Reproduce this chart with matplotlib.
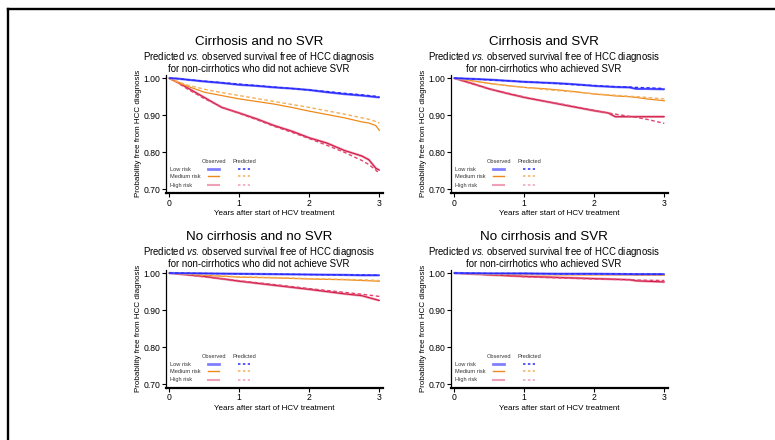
import matplotlib
matplotlib.use('Agg')
import matplotlib.pyplot as plt
from matplotlib.lines import Line2D

plt.rcParams['font.family'] = ['Liberation Sans', 'DejaVu Sans']
plt.rcParams['mathtext.fontset'] = 'custom'
plt.rcParams['mathtext.rm'] = 'Liberation Sans'
plt.rcParams['mathtext.it'] = 'Liberation Sans:italic'

# panel 1: cirrhosis, no SVR
t1 = [0, 0.1, 0.25, 0.5, 0.75, 1, 1.25, 1.5, 1.75, 2, 2.25, 2.5, 2.75, 2.85, 2.95, 3]
low_obs1 = [1.0, 0.999, 0.996, 0.991, 0.987, 0.982, 0.979, 0.975, 0.972, 0.968, 0.962, 0.957, 0.953, 0.951, 0.949, 0.948]
low_pred1 = [1.0, 0.999, 0.996, 0.992, 0.988, 0.984, 0.980, 0.976, 0.972, 0.968, 0.964, 0.959, 0.955, 0.953, 0.951, 0.950]
med_obs1 = [1.0, 0.990, 0.979, 0.962, 0.953, 0.944, 0.937, 0.930, 0.921, 0.911, 0.902, 0.893, 0.882, 0.879, 0.872, 0.859]
med_pred1 = [1.0, 0.992, 0.982, 0.970, 0.961, 0.953, 0.945, 0.937, 0.929, 0.921, 0.912, 0.903, 0.893, 0.889, 0.883, 0.879]
high_obs1 = [1.0, 0.991, 0.975, 0.948, 0.921, 0.906, 0.890, 0.872, 0.857, 0.839, 0.825, 0.805, 0.790, 0.780, 0.757, 0.752]
high_pred1 = [1.0, 0.990, 0.972, 0.945, 0.922, 0.905, 0.888, 0.870, 0.854, 0.837, 0.819, 0.800, 0.778, 0.767, 0.752, 0.742]

# panel 2: cirrhosis, SVR
t2 = [0, 0.25, 0.5, 0.75, 1, 1.25, 1.5, 1.75, 2, 2.2, 2.3, 2.5, 2.6, 2.75, 3]
low_obs2 = [1.0, 0.998, 0.996, 0.993, 0.990, 0.988, 0.986, 0.983, 0.979, 0.977, 0.976, 0.975, 0.971, 0.971, 0.970]
low_pred2 = [1.0, 0.998, 0.995, 0.993, 0.990, 0.988, 0.985, 0.982, 0.980, 0.978, 0.977, 0.976, 0.975, 0.974, 0.972]
med_obs2 = [1.0, 0.993, 0.986, 0.980, 0.975, 0.972, 0.968, 0.963, 0.957, 0.954, 0.952, 0.950, 0.948, 0.944, 0.939]
med_pred2 = [1.0, 0.992, 0.985, 0.980, 0.975, 0.970, 0.966, 0.962, 0.958, 0.955, 0.954, 0.951, 0.950, 0.948, 0.944]
high_obs2 = [1.0, 0.986, 0.971, 0.959, 0.948, 0.939, 0.930, 0.921, 0.912, 0.906, 0.896, 0.896, 0.896, 0.896, 0.896]
high_pred2 = [1.0, 0.985, 0.971, 0.960, 0.949, 0.939, 0.931, 0.922, 0.913, 0.906, 0.903, 0.897, 0.894, 0.889, 0.878]

# panel 3: no cirrhosis, no SVR
t3 = [0, 0.5, 1, 1.5, 2, 2.5, 2.75, 3]
low_obs3 = [1.0, 0.999, 0.998, 0.997, 0.996, 0.995, 0.994, 0.994]
low_pred3 = [1.0, 0.999, 0.998, 0.997, 0.996, 0.995, 0.995, 0.994]
med_obs3 = [1.0, 0.994, 0.989, 0.987, 0.984, 0.982, 0.980, 0.978]
med_pred3 = [1.0, 0.995, 0.990, 0.988, 0.985, 0.983, 0.982, 0.980]
high_obs3 = [1.0, 0.991, 0.978, 0.967, 0.956, 0.944, 0.939, 0.926]
high_pred3 = [1.0, 0.990, 0.979, 0.969, 0.958, 0.948, 0.943, 0.937]

# panel 4: no cirrhosis, SVR
t4 = [0, 0.5, 1, 1.5, 2, 2.5, 2.6, 3]
low_obs4 = [1.0, 0.999, 0.999, 0.998, 0.998, 0.997, 0.997, 0.997]
low_pred4 = [1.0, 0.999, 0.999, 0.998, 0.998, 0.998, 0.997, 0.997]
med_obs4 = [1.0, 0.996, 0.996, 0.995, 0.995, 0.995, 0.994, 0.994]
med_pred4 = [1.0, 0.998, 0.997, 0.997, 0.996, 0.995, 0.995, 0.995]
high_obs4 = [1.0, 0.995, 0.991, 0.988, 0.985, 0.982, 0.979, 0.976]
high_pred4 = [1.0, 0.996, 0.990, 0.987, 0.984, 0.982, 0.981, 0.980]

titles = ['Cirrhosis and no SVR', 'Cirrhosis and SVR',
          'No cirrhosis and no SVR', 'No cirrhosis and SVR']
subtitles = ['for non-cirrhotics who did not achieve SVR', 'for non-cirrhotics who achieved SVR',
             'for non-cirrhotics who did not achieve SVR', 'for non-cirrhotics who achieved SVR']
panels = [
    (t1, low_obs1, low_pred1, med_obs1, med_pred1, high_obs1, high_pred1),
    (t2, low_obs2, low_pred2, med_obs2, med_pred2, high_obs2, high_pred2),
    (t3, low_obs3, low_pred3, med_obs3, med_pred3, high_obs3, high_pred3),
    (t4, low_obs4, low_pred4, med_obs4, med_pred4, high_obs4, high_pred4),
]
risk_labels = ['Low risk', 'Medium risk', 'High risk']
yticks = [0.70, 0.80, 0.90, 1.00]
xticks = [0, 1, 2, 3]

BLUE, BLUE_L = '#2b2bff', '#8080ff'
ORANGE, ORANGE_L = '#ef8a1a', '#f5b05a'
RED, RED_L = '#d11742', '#eea0b6'
RED_D = '#e0456e'

fig = plt.figure(figsize=(7.75, 4.4), dpi=100)

# border of the original figure box (top and left only)
fig.add_artist(Line2D([0.0097, 1.0], [0.9795, 0.9795], color='black', lw=1.7,
                      transform=fig.transFigure))
fig.add_artist(Line2D([0.0103, 0.0103], [0.0, 0.9795], color='black', lw=1.7,
                      transform=fig.transFigure))

positions = [(0.2142, 0.562), (0.5819, 0.562), (0.2142, 0.119), (0.5819, 0.119)]
W, H = 0.2796, 0.268

for i, (t, lo, lp, mo, mp, ho, hp) in enumerate(panels):
    ax = fig.add_axes([positions[i][0], positions[i][1], W, H])

    # observed (solid, with a light halo) and predicted (dashed)
    ax.plot(t, ho, color=RED_L, lw=1.8, solid_capstyle='butt')
    ax.plot(t, ho, color=RED, lw=0.8)
    ax.plot(t, hp, color=RED_D, lw=1.0, dashes=(2.6, 1.8))
    ax.plot(t, mo, color=ORANGE, lw=0.9)
    ax.plot(t, mp, color=ORANGE_L, lw=1.0, dashes=(2.6, 1.8))
    ax.plot(t, lo, color=BLUE_L, lw=1.7, solid_capstyle='butt')
    ax.plot(t, lo, color=BLUE, lw=0.8)
    ax.plot(t, lp, color=BLUE, lw=1.0, dashes=(2.4, 1.8))

    ax.set_xlim(-0.046, 3.048)
    ax.set_ylim(0.691, 1.009)
    ax.set_xticks(xticks)
    ax.set_yticks(yticks)
    ax.set_yticklabels(['%.2f' % v for v in yticks])
    for s in ['top', 'right']:
        ax.spines[s].set_visible(False)
    ax.spines['left'].set_linewidth(0.9)
    ax.spines['bottom'].set_linewidth(1.6)
    ax.tick_params(axis='both', length=3, width=0.8, labelsize=6.2, pad=1.2)
    ax.set_xlabel('Years after start of HCV treatment', fontsize=5.8, labelpad=1.5)
    ax.set_ylabel('Probability free from HCC diagnosis', fontsize=5.8, labelpad=1)

    ax.text(0.429, 1.28, titles[i], transform=ax.transAxes, ha='center',
            va='center', fontsize=9.6)
    ax.text(0.429, 1.148, 'Predicted $\\mathit{vs.}\\,$observed survival free of HCC diagnosis',
            transform=ax.transAxes, ha='center', va='center', fontsize=6.9)
    ax.text(0.429, 1.047, subtitles[i], transform=ax.transAxes, ha='center',
            va='center', fontsize=6.9)

    # hand-drawn legend: observed / predicted columns
    ax.text(0.2215, 0.267, 'Observed', transform=ax.transAxes, ha='center',
            va='center', fontsize=4.1, color='#333333')
    ax.text(0.362, 0.267, 'Predicted', transform=ax.transAxes, ha='center',
            va='center', fontsize=4.1, color='#333333')
    leg_y = [0.200, 0.141, 0.065]
    obs_style = [(BLUE_L, 2.0), (ORANGE, 1.0), (RED_L, 1.5)]
    pred_col = [BLUE, ORANGE_L, RED_L]
    for k in range(3):
        ax.text(0.018, leg_y[k], risk_labels[k], transform=ax.transAxes,
                ha='left', va='center', fontsize=4.1, color='#333333')
        ax.add_line(Line2D([0.192, 0.246], [leg_y[k], leg_y[k]], color=obs_style[k][0],
                           lw=obs_style[k][1], transform=ax.transAxes))
        ax.add_line(Line2D([0.331, 0.388], [leg_y[k], leg_y[k]], color=pred_col[k],
                           lw=1.1, dashes=(1.6, 1.6), transform=ax.transAxes))

fig.savefig('out.png', dpi=100)
